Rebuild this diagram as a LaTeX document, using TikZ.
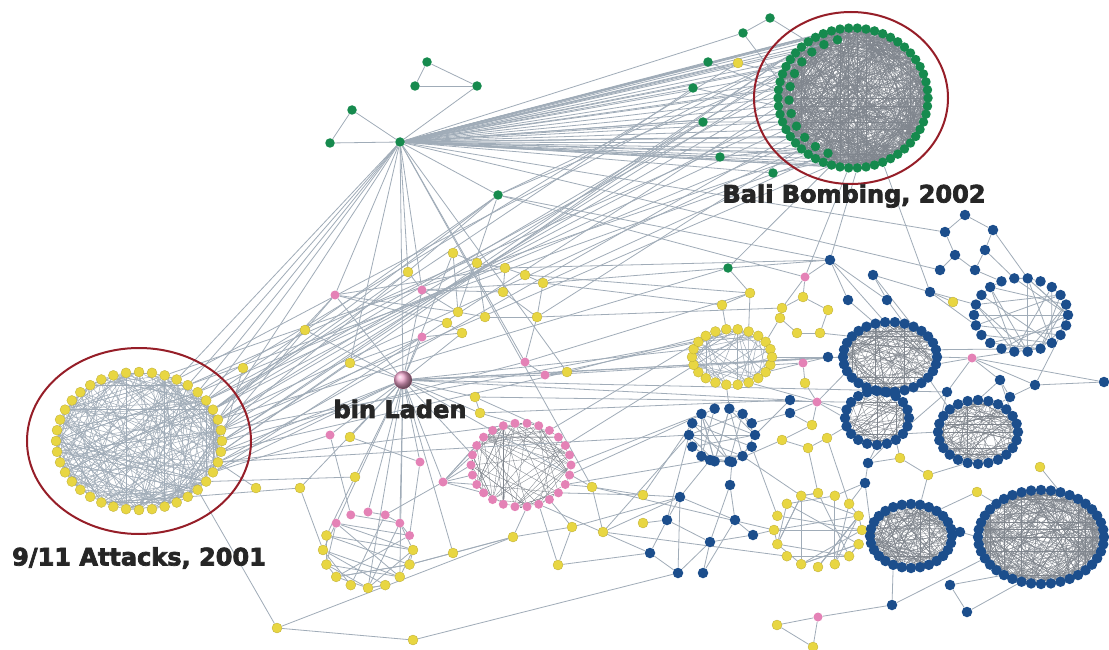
\documentclass[tikz,border=0pt]{standalone}
\usepackage{fontspec}
\newfontfamily\tagfont{DejaVu Sans}[BoldFeatures={FakeBold=3}]

\pgfdeclarelayer{background}
\pgfsetlayers{background,main}

\definecolor{linkgray}{RGB}{160,172,184}
\definecolor{densegray}{RGB}{128,134,142}
\definecolor{ringred}{RGB}{150,30,40}
\definecolor{dotyellow}{RGB}{232,214,66}
\definecolor{dotgreen}{RGB}{22,138,78}
\definecolor{dotblue}{RGB}{28,78,140}
\definecolor{dotpink}{RGB}{228,130,182}

\tikzset{
  link/.style={draw=linkgray, line width=0.8pt},
  fine/.style={draw=linkgray, line width=0.5pt},
  dense/.style={draw=densegray, line width=0.35pt},
  dot/.style={circle, inner sep=0pt, minimum size=10pt},
  ynode/.style={dot, fill=dotyellow, draw=dotyellow!80!black, line width=0.3pt},
  gnode/.style={dot, fill=dotgreen, minimum size=9.5pt},
  bnode/.style={dot, fill=dotblue, minimum size=10.5pt},
  pnode/.style={dot, fill=dotpink, minimum size=9pt},
  tag/.style={font=\tagfont\bfseries\fontsize{24}{24}\selectfont, text=black!85},
}

% ring of nodes: name, cx, cy, rx, ry, n, style
\newcommand\ringnodes[7]{%
  \foreach \k in {1,...,#6}
    \node[#7] (#1-\k) at ({#2+#4*cos(360/#6*\k)},{#3+#5*sin(360/#6*\k)}) {};}
% random chords inside a ring: name, n, count, style
\newcommand\ringchords[4]{%
  \begin{pgfonlayer}{background}
  \foreach \k in {1,...,#3}{
    \pgfmathtruncatemacro\ia{random(1,#2)}
    \pgfmathtruncatemacro\ib{mod(\ia+random(1,#2-1)-1,#2)+1}
    \draw[#4] (#1-\ia) -- (#1-\ib);
  }
  \end{pgfonlayer}}

\begin{document}
\begin{tikzpicture}[x=1pt, y=-1pt]
  \begin{pgfonlayer}{background}
    \fill[white] (0,0) rectangle (1109,650);
  \end{pgfonlayer}
  \useasboundingbox (0,0) rectangle (1109,650);
  \pgfmathsetseed{11}

  % --- Clusters ---
  \ringnodes{A}{139}{441}{83}{69}{40}{ynode}
  \ringnodes{B}{853}{98}{75}{70}{54}{gnode}
  \ringnodes{C}{521}{465}{50}{42}{26}{pnode}
  \ringnodes{E}{732}{357}{40}{28}{22}{ynode}
  \ringnodes{F}{890}{357}{47}{35}{30}{bnode}
  \ringnodes{G}{1021}{315}{47}{37}{22}{bnode}
  \ringnodes{H}{877}{418}{32}{27}{20}{bnode}
  \ringnodes{I}{978}{432}{40}{32}{24}{bnode}
  \ringnodes{J}{722}{435}{33}{27}{14}{bnode}
  \ringnodes{K}{818}{530}{44}{37}{16}{ynode}
  \ringnodes{L}{911}{536}{41}{32}{28}{bnode}
  \ringnodes{M}{1041}{537}{63}{47}{40}{bnode}
  \foreach \k in {1,...,16}{
    \ifnum\k>9 \def\dstyle{pnode}\else\def\dstyle{ynode}\fi
    \ifnum\k=16 \def\dstyle{ynode}\fi
    \node[\dstyle] (D-\k) at ({368+45*cos(22.5*\k)},{550+38*sin(22.5*\k)}) {};
  }
  % inner arc of the Bali ring
  \foreach \k in {1,...,12}
    \node[gnode] (Bi-\k) at ({853+64*cos(100+13*\k)},{98+60*sin(100+13*\k)}) {};

  \ringchords{A}{40}{260}{fine}
  \ringchords{B}{54}{750}{dense}
  \ringchords{C}{26}{90}{dense}
  \ringchords{D}{16}{30}{link}
  \ringchords{E}{22}{60}{fine}
  \ringchords{F}{30}{160}{dense}
  \ringchords{G}{22}{35}{link}
  \ringchords{H}{20}{80}{dense}
  \ringchords{I}{24}{140}{dense}
  \ringchords{J}{14}{30}{link}
  \ringchords{K}{16}{30}{link}
  \ringchords{L}{28}{190}{dense}
  \ringchords{M}{40}{360}{dense}

  % --- Single nodes ---
  \foreach \n/\x/\y in {h/400/142, g1/427/62, g2/415/86, g3/477/86, g4/352/110,
      g5/330/143, g6/498/195, g7/728/268, gb1/770/18, gb2/743/33, gb3/708/62,
      gb4/693/88, gb5/703/122, gb6/720/157, gb7/773/173}
    \node[gnode] (\n) at (\x,\y) {};
  \foreach \n/\x/\y in {p1/335/295, p2/422/290, p3/422/337, p4/525/362, p5/545/375,
      p6/330/435, p7/420/462, p8/443/482, p9/805/277, p10/803/363, p11/817/402,
      p12/972/358, p13/818/617}
    \node[pnode] (\n) at (\x,\y) {};
  \foreach \n/\x/\y in {yb/738/63, y1/408/272, y2/453/253, y3/477/263, y4/505/268,
      y5/525/275, y6/543/283, y7/503/292, y8/458/312, y9/485/317, y10/537/317,
      y11/447/323, y12/462/333, y13/305/330, y14/350/363, y15/567/372, y16/475/397,
      y17/480/413, y18/350/437, y19/355/477, y20/300/488, y21/592/487, y22/572/527,
      y23/603/532, y24/513/537, y25/558/565, y26/453/553, y27/277/628, y28/413/640,
      y29/243/368, y30/256/488, y31/750/293, y32/722/305, y33/782/308, y34/780/318,
      y35/803/297, y36/828/310, y37/797/333, y38/820/333, y39/805/383, y40/812/425,
      y41/782/440, y42/808/448, y43/827/438, y44/953/302, y45/900/458, y46/928/475,
      y47/1040/467, y48/977/492, y49/643/495, y50/643/523, y51/777/625, y52/813/647}
    \node[ynode] (\n) at (\x,\y) {};
  \foreach \n/\x/\y in {b1/830/260, b2/873/275, b3/848/300, b4/887/300, b5/930/292,
      b6/828/357, b7/790/400, b8/790/413, b9/1000/380, b10/1035/385, b11/1010/397,
      b12/947/392, b13/1104/382, b14/868/463, b15/865/483, b17/945/232, b18/965/215,
      b19/993/230, b20/955/255, b21/985/250, b22/975/270, b23/940/270, b24/710/460,
      b25/732/462, b26/730/485, b27/680/497, b28/667/520, b29/735/520, b30/753/535,
      b31/710/542, b32/650/553, b33/678/573, b34/703/573, b35/892/605, b36/950/585,
      b37/967/612, b38/960/532}
    \node[bnode] (\n) at (\x,\y) {};
  \node[pnode, minimum size=18pt, ball color=dotpink!75!white] (bl) at (403,380) {};

  % --- Links ---
  \begin{pgfonlayer}{background}
  \foreach \k in {14,...,40} \draw[link] (h) -- (B-\k);
  \foreach \k in {1,3,...,11} \draw[link] (h) -- (Bi-\k);
  \foreach \k in {10,...,16} \draw[link] (p8) -- (C-\k);
  \foreach \k in {2,4,...,12} \draw[dense] (Bi-\k) -- (B-\the\numexpr 3*\k+5\relax);
  \foreach \i/\j in {34/18,35/21,36/23,37/25,38/27,39/29,40/31,33/33,1/35,2/22,3/26,32/19,
      34/24,36/28,38/20,40/36,39/16,37/30}
    \draw[link] (A-\i) -- (B-\j);
  \foreach \a/\b in {h/g3, g1/g2, g2/g3, g1/g3, g4/g5, g4/h, g5/h, h/g6, h/bl, h/p1,
      h/p2, h/y1, h/y14, h/p4, h/y15, h/y21, h/b17, h/b23, h/gb2, h/gb3, h/gb4, h/gb5,
      h/gb6, h/gb7, h/yb, g6/p9, g6/b1, g6/y8, g6/B-30, g6/B-33, gb1/gb2, gb2/B-29,
      gb3/B-28, gb4/B-26, gb5/B-24, gb6/B-20, gb7/B-17, yb/B-30, gb1/B-35, g7/b1, g7/y31,
      h/A-33, h/A-34, h/A-35, h/A-36, h/A-38,
      A-36/g6, A-37/g6, A-39/g6, A-38/gb5, A-37/gb4, A-35/yb, A-1/bl, A-2/bl, A-3/bl,
      A-40/y29, A-39/y13, A-38/p1, A-2/y30, A-5/y27, A-1/y14, A-40/p3, A-3/p6, A-2/C-18,
      A-39/E-18, A-40/p4, A-1/y15, A-2/J-7, A-4/y19, A-38/g7, A-37/y1}
    \draw[link] (\a) -- (\b);
  \foreach \a/\b in {bl/p1, bl/p2, bl/p3, bl/y13, bl/y14, bl/y16, bl/y17, bl/y15,
      bl/p5, bl/p6, bl/y18, bl/p7, bl/p8, bl/D-10, bl/D-12, bl/D-14, bl/D-2, bl/D-4,
      bl/C-14, bl/y21, bl/E-12, bl/b7, bl/y26, bl/y19, bl/y12, bl/y2, bl/y20, bl/b12,
      bl/F-15,
      y1/p2, y2/y3, y3/y4, y4/y5, y5/y6, y6/y10, y7/y4, y8/y9, y9/y10, y11/y12, y12/p3,
      y2/y8, y3/y9, y7/y10, p2/y7, p2/y8, y10/p4, p4/p5, p5/y15, p1/y8, p1/y11, y13/p1,
      y14/p3, p1/y4, p2/y6, y5/y31, y6/g7, y10/y33, y4/b1, y16/y17, y17/C-19, y16/C-21,
      D-1/y24, p6/D-11, y18/p7, y19/D-9, y20/D-8, y20/A-6, y27/y28, y28/b33, y27/y24,
      y26/y24, y24/y22, y22/y25, y23/y21, y21/C-2, y25/b32, y24/C-6, y26/D-1, y22/b27,
      y23/J-7, y25/C-5, y22/C-4, D-15/p7, D-13/p8}
    \draw[link] (\a) -- (\b);
  \foreach \a/\b in {p9/b1, p9/y33, b1/b3, b1/b4, b1/F-22, b2/b4, b3/F-21, b4/F-24,
      b2/F-25, b5/G-12, b5/y44, b5/b2, b17/b18, b18/b19, b17/b20, b19/b21, b20/b22,
      b21/b22, b22/G-15, b23/b20, b19/G-17, b21/G-16, b12/p12, p12/F-1, p12/G-6,
      p12/b13, p12/b9, b9/b11, b10/b11, b10/p12, b6/F-15, b6/p10, p10/E-1, p10/y39,
      y39/p11, p11/b7, p11/b8, p11/H-10, p11/F-13, b7/J-14, b8/J-13, y40/y41, y41/y42,
      y42/y43, y43/H-9, y41/b25, y40/p11, y33/y34, y33/y35, y35/y36, y34/y37, y37/y38,
      y36/y38, y38/F-18, y35/p9, y32/y31, y32/E-16, y31/E-18, y34/E-20, E-2/p10,
      E-22/b6, b9/I-18, b11/I-20, b12/I-13, b12/H-1, F-8/H-16, F-6/H-14, H-2/I-12,
      H-4/b14, I-15/F-3, G-4/F-29, G-2/b10, F-30/p12, G-10/b5, b13/b10, I-22/b9}
    \draw[link] (\a) -- (\b);
  \foreach \a/\b in {b24/b25, b24/J-5, b25/J-4, b26/b25, b27/b28, b27/b24, b28/b31,
      b29/b30, b29/b26, b30/b31, b31/b34, b32/b33, b32/b28, b33/b27, b34/b29, b30/K-8,
      y49/b27, y50/b28, b28/J-8, y49/J-8, b26/b31, b29/b27, b33/b31,
      b14/b15, b14/H-5, b15/K-13, b15/L-15, y45/b14, y46/y45, y46/I-7, y47/M-32,
      y48/M-25, b38/L-28, b38/M-20, y48/L-24, y45/H-3, y46/L-22, K-14/b15, y42/K-12,
      y43/K-14, y40/b8, p13/y51, p13/y52, y51/y52, p13/b35, b35/L-9, b36/b37, b36/M-14,
      b37/M-12, b35/M-17,
      y15/E-14, p5/E-13, y21/y49, y23/b27, C-1/J-10, C-2/b24, C-3/y49, C-24/E-18,
      p4/y31, y6/y32, y17/b7, y16/H-12, C-26/J-9, C-22/E-15, y15/b6, p5/F-15, y21/K-8,
      y23/K-6, C-5/b32, J-1/K-9, J-2/K-11, E-6/J-11, E-4/H-11,
      B-18/y6, B-20/y10, B-16/g7, B-14/p9, B-13/b1, B-10/b5}
    \draw[link] (\a) -- (\b);
  \end{pgfonlayer}

  % --- Highlights and labels ---
  \draw[ringred, line width=2pt] (139,441) ellipse [x radius=112pt, y radius=93pt];
  \draw[ringred, line width=2pt] (851,98) ellipse [x radius=97pt, y radius=86pt];
  \node[tag] (t911) at (139,558) {9/11 Attacks, 2001};
  \node[tag] (tbali) at (854,196) {Bali Bombing, 2002};
  \node[tag] (tladen) at (400,409) {bin Laden};
\end{tikzpicture}
\end{document}
